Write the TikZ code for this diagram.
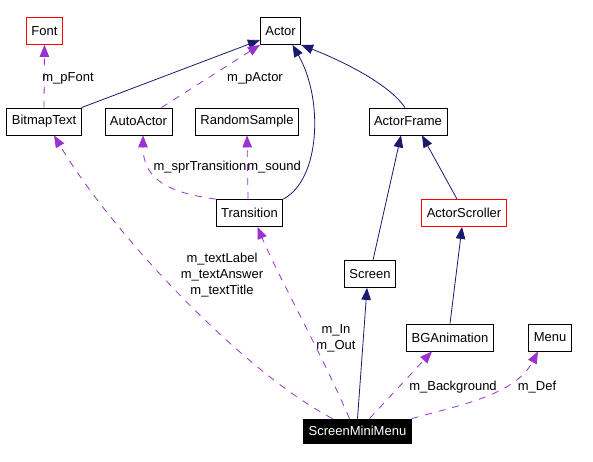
\documentclass[tikz,border=0pt]{standalone}
\usepackage{fontspec}
\setmainfont{Liberation Sans}
\usepackage{xcolor}
\usetikzlibrary{arrows.meta}
\definecolor{edge-navy}{HTML}{191970}
\definecolor{edge-purple}{HTML}{9A32CD}
\tikzset{
    class-box/.style = {draw=black, fill=white, line width=0.8pt, rectangle, minimum height=27pt, inner xsep=5pt, inner ysep=0pt, font=\fontsize{13}{15}\selectfont},
    class-box-red/.style = {class-box, draw=red},
    class-box-focus/.style = {class-box, fill=black, text=white, minimum height=24pt},
    inherit-edge/.style = {draw=edge-navy, line width=0.8pt, -{Triangle[length=12pt,width=9.5pt]}},
    member-edge/.style = {draw=edge-purple, line width=0.8pt, dash pattern=on 7pt off 7pt, -{Triangle[length=12pt,width=9.5pt]}},
    edge-label/.style = {inner sep=0pt, align=center, font=\fontsize{13}{16}\selectfont},
}
\begin{document}
\begin{tikzpicture}[x=1pt,y=-1pt]
\useasboundingbox (0,0) rectangle (593,462);
\node[class-box-red] (font) at (44.5,31) {Font};
\node[class-box] (actor) at (280.5,31) {Actor};
\node[class-box] (bitmap) at (44,121.5) {BitmapText};
\node[class-box] (autoactor) at (138.5,121.5) {AutoActor};
\node[class-box] (sample) at (247,121.5) {RandomSample};
\node[class-box] (frame) at (408,121.5) {ActorFrame};
\node[class-box] (transition) at (249.5,213) {Transition};
\node[class-box-red] (scroller) at (464,213) {ActorScroller};
\node[class-box] (screen) at (370,274) {Screen};
\node[class-box] (bganim) at (450,337.5) {BGAnimation};
\node[class-box] (menu) at (550,337.5) {Menu};
\node[class-box-focus] (mini) at (357.5,431) {ScreenMiniMenu};

\draw[inherit-edge] (bitmap.north east) -- ([yshift=-9pt]actor.west);
\draw[inherit-edge] (transition.north east) .. controls (320,180) and (324,100) .. ([xshift=12pt]actor.south);
\draw[inherit-edge] ([xshift=-3pt]frame.north) .. controls (390,85) and (345,62) .. (actor.south east);
\draw[inherit-edge] ([xshift=-7pt]scroller.north) -- ([xshift=14pt]frame.south);
\draw[inherit-edge] ([xshift=3pt]screen.north) -- ([xshift=-7pt]frame.south);
\draw[inherit-edge] (bganim.north) -- ([xshift=-2pt]scroller.south);
\draw[inherit-edge] (mini.north) -- ([xshift=-3pt]screen.south);

\draw[member-edge] (bitmap.north) -- (font.south);
\draw[member-edge] ([xshift=-11pt]autoactor.north east) -- (actor.south west);
\draw[member-edge] (transition.north west) .. controls (170,193) and (143,180) .. ([xshift=4.5pt]autoactor.south);
\draw[member-edge] ([xshift=-1.5pt]transition.north) -- (sample.south);
\draw[member-edge] ([xshift=-25pt]mini.north) .. controls (240,370) and (110,230) .. ([xshift=10pt]bitmap.south);
\draw[member-edge] ([xshift=-8pt]mini.north) .. controls (320,350) and (280,280) .. ([xshift=8pt]transition.south);
\draw[member-edge] ([xshift=12pt]mini.north) -- ([xshift=-18pt]bganim.south);
\draw[member-edge] (mini.north east) .. controls (460,405) and (515,395) .. ([xshift=-12pt]menu.south);

\node[edge-label] (lbl-font) at (68,78) {m\_pFont};
\node[edge-label] (lbl-actor) at (255,78) {m\_pActor};
\node[edge-label] (lbl-spr) at (200,167) {m\_sprTransition};
\node[edge-label] (lbl-sound) at (274,167) {m\_sound};
\node[edge-label] (lbl-text) at (222,275) {m\_textLabel\\m\_textAnswer\\m\_textTitle};
\node[edge-label] (lbl-inout) at (336,338) {m\_In\\m\_Out};
\node[edge-label] (lbl-bg) at (453,387) {m\_Background};
\node[edge-label] (lbl-def) at (537,387) {m\_Def};
\end{tikzpicture}
\end{document}
